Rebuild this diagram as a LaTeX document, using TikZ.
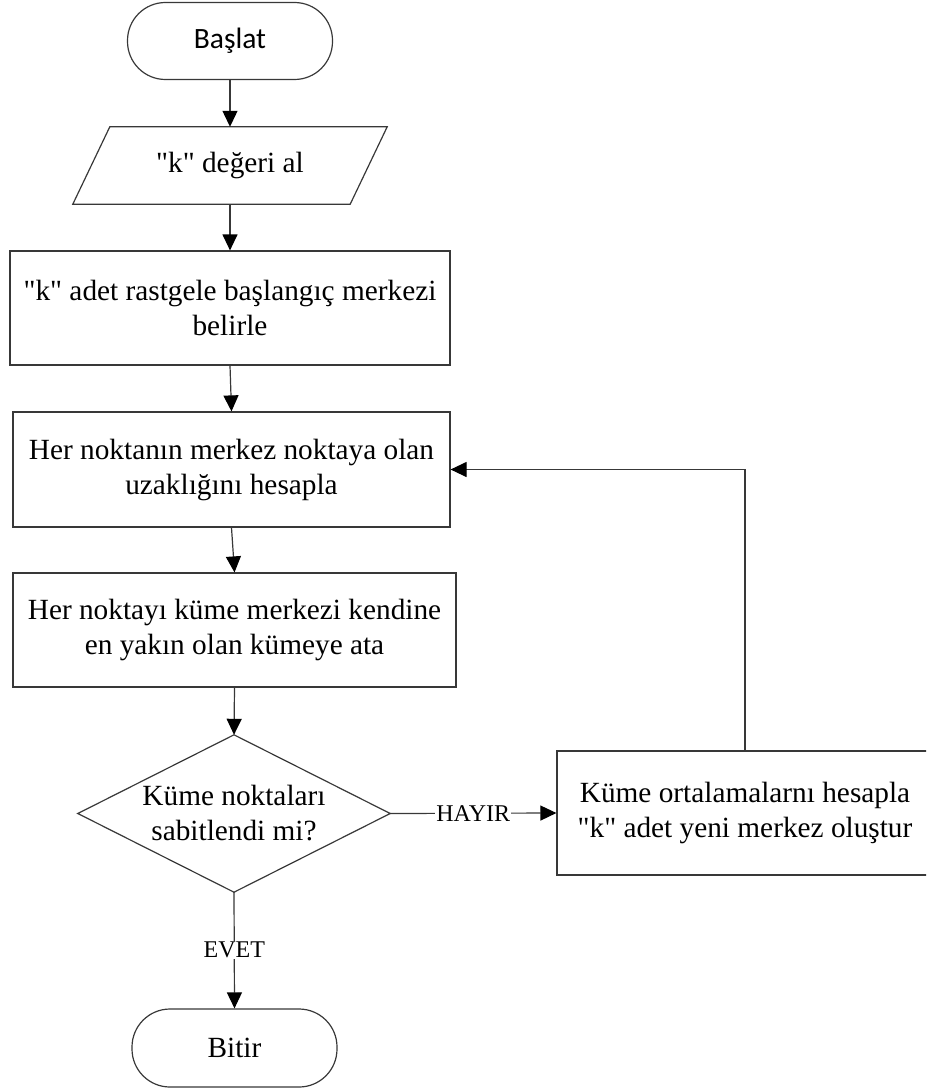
\documentclass[tikz,border=0pt]{standalone}
\usepackage{fontspec}
% plain family: keeps the straight " as typed
\newfontfamily\bodyserif{Liberation Serif}
\newfontfamily\termsans{Carlito}
\usetikzlibrary{arrows.meta}
\begin{document}
\begin{tikzpicture}[x=1pt,y=-1pt,
  line/.style={draw=black!78, line width=1.2pt},
  arrow/.style={line, -{Triangle[length=16pt,width=15pt,color=black]}},
  body/.style={font=\bodyserif\fontsize{29.3}{35}\selectfont, align=center, inner sep=0pt},
  proc/.style={body, line, rectangle},
  term/.style={body, line, rectangle, rounded corners=38pt},
  tag/.style={font=\bodyserif\fontsize{24}{28}\selectfont, fill=white, inner sep=1pt}
]
\useasboundingbox (0,0) rectangle (926,1089);
\clip (0,0) rectangle (926,1089);

% start / end terminals
\node[term, font=\termsans\fontsize{29.5}{34}\selectfont,
      minimum width=205pt, minimum height=77pt] (start) at (230,41) {Başlat};
\node[term, minimum width=205pt, minimum height=78pt] (stop) at (234.5,1048) {Bitir};

% input (parallelogram drawn around the text node)
\node[body, minimum width=277pt, minimum height=77pt] (input) at (230,165.5) {"k" değeri al};
\draw[line] ([xshift=-18.5pt]input.south west) -- ([xshift=18.5pt]input.north west)
  -- ([xshift=18.5pt]input.north east) -- ([xshift=-18.5pt]input.south east) -- cycle;

% process steps
\node[proc, minimum width=440pt, minimum height=114pt] (init) at (230,308)
  {"k" adet rastgele başlangıç merkezi\\belirle};
\node[proc, minimum width=437pt, minimum height=115pt] (dist) at (231.5,469.5)
  {Her noktanın merkez noktaya olan\\uzaklığını hesapla};
\node[proc, minimum width=443pt, minimum height=114pt] (assign) at (234.5,630)
  {Her noktayı küme merkezi kendine\\en yakın olan kümeye ata};

% decision (diamond drawn through the node's anchors)
\node[body, minimum width=312pt, minimum height=157pt] (check) at (234,813.5)
  {Küme noktaları\\sabitlendi mi?};
\draw[line] (check.north) -- (check.east) -- (check.south) -- (check.west) -- cycle;

% update step
\node[proc, minimum width=376pt, minimum height=124pt] (update) at (745,813)
  {Küme ortalamalarnı hesapla\\"k" adet yeni merkez oluştur};

% connectors
\draw[arrow] (start.south) -- (input.north);
\draw[arrow] (input.south) -- (init.north);
\draw[arrow] (init.south) -- (dist.north);
\draw[arrow] (dist.south) -- (assign.north);
\draw[arrow] (assign.south) -- (check.north);
\draw[arrow] (check.east) -- node[tag] {HAYIR} (update.west);
\draw[arrow] (update.north) |- (dist.east);
\draw[arrow] (check.south) -- node[tag] {EVET} (stop.north);
\end{tikzpicture}
\end{document}
